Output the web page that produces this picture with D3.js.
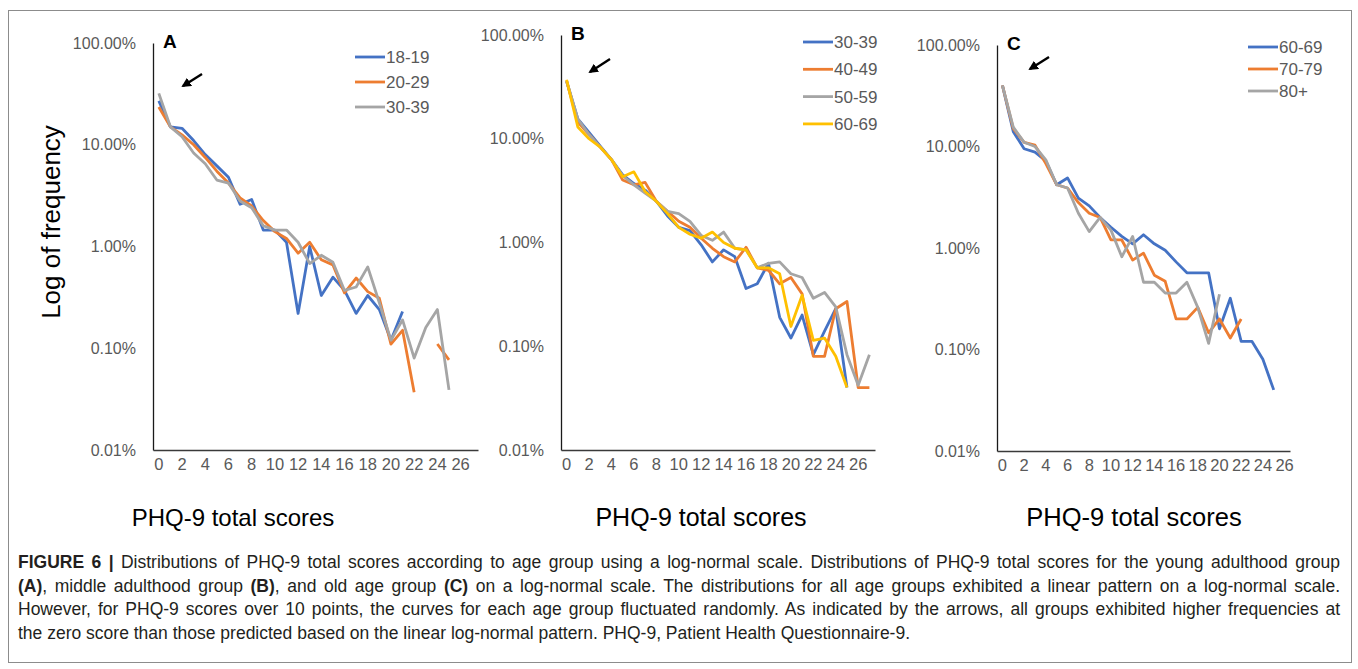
<!DOCTYPE html>
<html>
<head>
<meta charset="utf-8">
<script src="https://cdn.jsdelivr.net/npm/d3@7/dist/d3.min.js"></script>
<style>
  body { margin: 0; background: #fff; }
  svg { font-family: "Liberation Sans", Arial, sans-serif; }
  .y-ticks text { fill: #595959; font-size: 16px; }
  .x-ticks text { fill: #595959; font-size: 16.5px; }
  .legend text { fill: #595959; font-size: 17px; }
  .axis-title { fill: #000; }
  .caption { fill: #231f20; font-size: 17.5px; }
</style>
</head>
<body>
<svg id="fig" width="1358" height="669"></svg>
<script>
// categories (PHQ-9 total score)
const scores28 = [0,1,2,3,4,5,6,7,8,9,10,11,12,13,14,15,16,17,18,19,20,21,22,23,24,25,26,27];
const scores27 = [0,1,2,3,4,5,6,7,8,9,10,11,12,13,14,15,16,17,18,19,20,21,22,23,24,25,26];
const yTicks = [100, 10, 1, 0.1, 0.01];

// frequency in percent
const a1819 = [27, 15, 14.5, 11, 8, 6.2, 4.8, 2.6, 2.9, 1.45, 1.45, 1.1, 0.22, 1.0, 0.33, 0.5, 0.37, 0.22, 0.33, 0.24, 0.12, 0.23];
const a2029 = [23.5, 15, 12.5, 10, 7.5, 5.5, 4.2, 3.0, 2.5, 1.8, 1.4, 1.2, 0.86, 1.1, 0.74, 0.66, 0.35, 0.49, 0.36, 0.31, 0.11, 0.15, 0.037, null, 0.11, 0.077];
const a3039 = [32, 15, 12, 8.3, 6.5, 4.5, 4.2, 2.8, 2.4, 1.6, 1.45, 1.45, 1.1, 0.68, 0.82, 0.7, 0.37, 0.4, 0.63, 0.28, 0.12, 0.19, 0.08, 0.16, 0.24, 0.039];

const b3039 = [36, 15.5, 11.5, 8.5, 6.3, 4.5, 3.7, 3.2, 2.5, 1.8, 1.4, 1.3, 0.95, 0.65, 0.85, 0.73, 0.36, 0.40, 0.63, 0.19, 0.12, 0.2, 0.083, 0.14, 0.23, 0.04];
const b4049 = [36, 14.5, 11, 8.3, 6.3, 4.0, 3.6, 3.8, 2.5, 2.0, 1.6, 1.4, 1.1, 0.88, 0.73, 0.65, 0.9, 0.57, 0.54, 0.40, 0.46, 0.32, 0.08, 0.08, 0.23, 0.27, 0.04, 0.04];
const b5059 = [36, 15.5, 11, 8.3, 6.3, 4.4, 3.6, 3.0, 2.5, 2.0, 1.9, 1.6, 1.17, 1.05, 1.26, 0.88, 0.85, 0.57, 0.63, 0.65, 0.5, 0.46, 0.29, 0.33, 0.24, 0.083, 0.042, 0.083];
const b6069 = [37, 13, 10, 8.3, 6.3, 4.3, 4.8, 3.1, 2.5, 1.9, 1.4, 1.2, 1.1, 1.26, 1.0, 0.88, 0.85, 0.57, 0.57, 0.5, 0.155, 0.31, 0.114, 0.12, 0.08, 0.04];

const c6069 = [40, 14, 9.5, 8.8, 7.2, 4.2, 4.9, 3.1, 2.6, 2.0, 1.6, 1.3, 1.1, 1.35, 1.1, 0.95, 0.73, 0.57, 0.57, 0.57, 0.16, 0.32, 0.12, 0.12, 0.08, 0.04];
const c7079 = [40, 15, 11, 10.3, 6.8, 4.2, 3.9, 2.8, 2.2, 2.0, 1.2, 1.2, 0.76, 0.89, 0.54, 0.47, 0.2, 0.2, 0.26, 0.146, 0.2, 0.13, 0.2];
const c80plus = [40, 15.5, 11, 10, 7.4, 4.2, 3.9, 2.2, 1.45, 2.0, 1.5, 0.82, 1.3, 0.46, 0.46, 0.36, 0.36, 0.46, 0.26, 0.115, 0.35];

const colors = ['#4472C4', '#ED7D31', '#A5A5A5', '#FFC000'];

const panels = [
  { letter: 'A', cats: scores28, left: 153, right: 478, top: 43, bottom: 450,
    series: [a1819, a2029, a3039], names: ['18-19', '20-29', '30-39'],
    legend: { x: 355, y: 57, step: 25 }, arrow: [202, 74, 183, 86],
    title: { x: 233, size: 24 } },
  { letter: 'B', cats: scores28, left: 561, right: 875, top: 35, bottom: 450,
    series: [b3039, b4049, b5059, b6069], names: ['30-39', '40-49', '50-59', '60-69'],
    legend: { x: 803, y: 42, step: 27.3 }, arrow: [610, 59, 590, 72],
    title: { x: 701, size: 25 } },
  { letter: 'C', cats: scores27, left: 997, right: 1290, top: 45, bottom: 451,
    series: [c6069, c7079, c80plus], names: ['60-69', '70-79', '80+'],
    legend: { x: 1248, y: 47, step: 22 }, arrow: [1049, 57, 1030, 69],
    title: { x: 1134, size: 25.5 } }
];

const svg = d3.select('#fig');

svg.append('defs').append('marker')
    .attr('id', 'head')
    .attr('viewBox', '0 0 10 10')
    .attr('refX', 8).attr('refY', 5)
    .attr('markerWidth', 4).attr('markerHeight', 4)
    .attr('orient', 'auto-start-reverse')
  .append('path')
    .attr('d', 'M0,0 L10,5 L0,10 z')
    .attr('fill', '#000');

// frame around figure and caption
svg.append('rect')
    .attr('x', 8.5).attr('y', 10.5)
    .attr('width', 1343).attr('height', 652)
    .attr('fill', 'none')
    .attr('stroke', '#8c8c8c');

panels.forEach(p => {
  const x = d3.scaleBand()
      .domain(p.cats)
      .range([p.left, p.right]);
  const y = d3.scaleLog()
      .domain([0.01, 100])
      .range([p.bottom, p.top]);

  const yAxis = svg.append('g')
      .attr('class', 'y-ticks')
      .attr('transform', 'translate(' + p.left + ',0)')
      .call(d3.axisLeft(y)
        .tickValues(yTicks)
        .tickFormat(d => d3.format('.2f')(d) + '%')
        .tickSize(0)
        .tickPadding(17));
  yAxis.select('.domain').attr('stroke', '#1a1a1a').attr('stroke-width', 1.3);

  const xAxis = svg.append('g')
      .attr('class', 'x-ticks')
      .attr('transform', 'translate(0,' + p.bottom + ')')
      .call(d3.axisBottom(x)
        .tickValues(p.cats.filter(d => d % 2 === 0 && d <= 26))
        .tickSize(0)
        .tickPadding(8));
  xAxis.select('.domain').attr('stroke', '#3a3a3a').attr('stroke-width', 1.3);

  const line = d3.line()
      .defined(d => d != null)
      .x((d, i) => x(p.cats[i]) + x.bandwidth() / 2)
      .y(d => y(d));

  p.series.forEach((s, k) => {
    svg.append('path')
        .datum(s)
        .attr('fill', 'none')
        .attr('stroke', colors[k])
        .attr('stroke-width', 2.8)
        .attr('stroke-linejoin', 'round')
        .attr('d', line);
  });

  svg.append('text')
      .attr('x', p.left + 10)
      .attr('y', p.top + 5)
      .attr('font-size', 19)
      .attr('font-weight', 'bold')
      .text(p.letter);

  const lg = svg.append('g').attr('class', 'legend');
  p.names.forEach((n, k) => {
    const ly = p.legend.y + k * p.legend.step;
    lg.append('line')
        .attr('x1', p.legend.x).attr('x2', p.legend.x + 30)
        .attr('y1', ly).attr('y2', ly)
        .attr('stroke', colors[k])
        .attr('stroke-width', 2.8);
    lg.append('text')
        .attr('x', p.legend.x + 31)
        .attr('y', ly)
        .attr('dy', '0.36em')
        .text(n);
  });

  svg.append('line')
      .attr('x1', p.arrow[0]).attr('y1', p.arrow[1])
      .attr('x2', p.arrow[2]).attr('y2', p.arrow[3])
      .attr('stroke', '#000')
      .attr('stroke-width', 2.4)
      .attr('marker-end', 'url(#head)');

  svg.append('text')
      .attr('class', 'axis-title')
      .attr('x', p.title.x)
      .attr('y', 526)
      .attr('text-anchor', 'middle')
      .attr('font-size', p.title.size)
      .text('PHQ-9 total scores');
});

svg.append('text')
    .attr('class', 'axis-title')
    .attr('transform', 'translate(60,222) rotate(-90)')
    .attr('text-anchor', 'middle')
    .attr('font-size', 26)
    .text('Log of frequency');

// caption, first three lines justified by word spacing
const captionLines = [
  [['FIGURE 6 | ', true], ['Distributions of PHQ-9 total scores according to age group using a log-normal scale. Distributions of PHQ-9 total scores for the young adulthood group', false]],
  [['(A)', true], [', middle adulthood group ', false], ['(B)', true], [', and old age group ', false], ['(C)', true], [' on a log-normal scale. The distributions for all age groups exhibited a linear pattern on a log-normal scale.', false]],
  [['However, for PHQ-9 scores over 10 points, the curves for each age group fluctuated randomly. As indicated by the arrows, all groups exhibited higher frequencies at', false]],
  [['the zero score than those predicted based on the linear log-normal pattern. PHQ-9, Patient Health Questionnaire-9.', false]]
];
const captionWidth = 1322;

captionLines.forEach((parts, i) => {
  const t = svg.append('text')
      .attr('class', 'caption')
      .attr('x', 18)
      .attr('y', 568 + i * 23.5);
  parts.forEach(([txt, bold]) => {
    t.append('tspan')
        .attr('font-weight', bold ? 'bold' : null)
        .text(txt);
  });
  if (i < 3) {
    const natural = t.node().getComputedTextLength();
    const gaps = parts.map(d => d[0]).join('').split(' ').length - 1;
    t.attr('word-spacing', ((captionWidth - natural) / gaps).toFixed(2));
  }
});
</script>
</body>
</html>
